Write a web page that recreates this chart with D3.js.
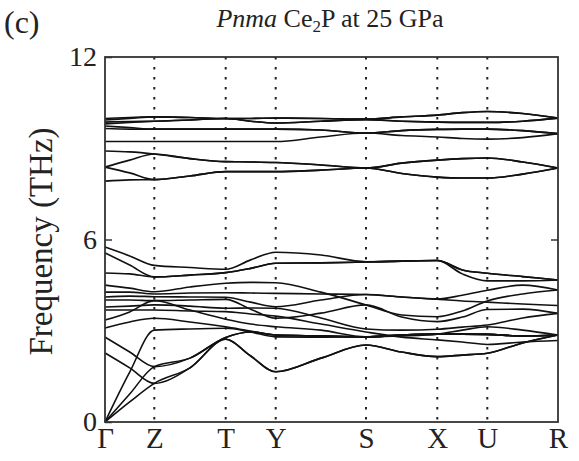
<!DOCTYPE html>
<html>
<head>
<meta charset="utf-8">
<script src="https://cdn.jsdelivr.net/npm/d3@7"></script>
<style>
  body { margin: 0; background: #fff; }
  svg { font-family: "Liberation Serif", "Times New Roman", serif; }
</style>
</head>
<body>
<svg id="chart" width="579" height="461"></svg>
<script>
// high-symmetry path
const kLabels = ["Γ", "Z", "T", "Y", "S", "X", "U", "R"];
const kTicks = [0, 0.493, 1.207, 1.707, 2.610, 3.323, 3.823, 4.530];
// sample positions along the path (symmetry points + one point inside each segment)
const kGrid = [0, 0.247, 0.493, 0.850, 1.207, 1.457, 1.707, 2.159, 2.610, 2.967, 3.323, 3.573, 3.823, 4.177, 4.530];
const yTicks = [0, 6, 12];

// frequencies (THz) read at kGrid
const upperBands = [
  [9.98, 10.01, 10.03, 10.01, 9.98, 9.98, 9.99, 9.98, 9.96, 10.03, 10.09, 10.17, 10.21, 10.14, 9.99],
  [9.93, 9.98, 10.03, 10.01, 9.98, 9.98, 9.99, 9.98, 9.96, 10.03, 10.09, 10.17, 10.21, 10.14, 9.99],
  [9.86, 9.88, 9.89, 9.93, 9.98, 9.89, 9.83, 9.89, 9.94, 9.89, 9.86, 9.85, 9.85, 9.89, 9.99],
  [9.80, 9.85, 9.89, 9.93, 9.98, 9.89, 9.83, 9.89, 9.94, 9.89, 9.86, 9.85, 9.85, 9.89, 9.99],
  [9.73, 9.68, 9.63, 9.63, 9.63, 9.63, 9.63, 9.60, 9.50, 9.58, 9.62, 9.63, 9.63, 9.58, 9.48],
  [9.65, 9.63, 9.63, 9.63, 9.63, 9.63, 9.63, 9.60, 9.50, 9.58, 9.62, 9.63, 9.63, 9.58, 9.48],
  [9.22, 9.22, 9.22, 9.22, 9.22, 9.22, 9.22, 9.37, 9.50, 9.42, 9.37, 9.32, 9.30, 9.35, 9.48]
];

const middleBands = [
  [8.91, 8.88, 8.81, 8.66, 8.56, 8.55, 8.53, 8.45, 8.35, 8.51, 8.61, 8.66, 8.68, 8.55, 8.35],
  [8.38, 8.61, 8.81, 8.66, 8.56, 8.55, 8.53, 8.45, 8.35, 8.51, 8.61, 8.66, 8.68, 8.55, 8.35],
  [8.38, 8.19, 7.97, 8.09, 8.23, 8.23, 8.23, 8.28, 8.35, 8.17, 8.05, 8.02, 8.02, 8.15, 8.35],
  [7.92, 7.96, 7.97, 8.09, 8.23, 8.23, 8.23, 8.28, 8.35, 8.17, 8.05, 8.02, 8.02, 8.15, 8.35]
];

const lowerBands = [
  [5.75, 5.46, 5.15, 5.08, 5.02, 5.33, 5.58, 5.49, 5.27, 5.29, 5.31, 5.00, 4.89, 4.78, 4.67],
  [5.56, 5.16, 4.77, 4.83, 4.91, 5.05, 5.22, 5.23, 5.26, 5.29, 5.31, 4.87, 4.64, 4.64, 4.67],
  [4.90, 4.87, 4.77, 4.83, 4.91, 5.05, 5.22, 5.23, 5.26, 5.29, 5.31, 5.00, 4.89, 4.78, 4.67],
  [4.50, 4.40, 4.28, 4.44, 4.56, 4.59, 4.58, 4.27, 3.85, 3.52, 3.46, 3.65, 3.98, 4.21, 4.34],
  [4.27, 4.27, 4.21, 4.24, 4.25, 4.24, 4.23, 4.21, 4.19, 4.11, 4.04, 4.17, 4.33, 4.50, 4.34],
  [4.11, 4.14, 4.12, 4.11, 4.10, 3.94, 3.79, 4.01, 4.19, 4.11, 4.04, 3.98, 3.94, 3.88, 3.83],
  [4.01, 4.01, 3.99, 4.01, 4.03, 3.71, 3.41, 3.58, 3.85, 3.45, 3.30, 3.45, 3.70, 3.71, 3.57],
  [3.78, 3.81, 3.85, 3.81, 3.74, 3.75, 3.74, 3.42, 3.06, 3.02, 3.05, 3.12, 3.19, 3.42, 3.57],
  [3.68, 3.68, 3.68, 3.65, 3.63, 3.55, 3.48, 3.22, 2.96, 2.79, 2.70, 2.63, 2.55, 2.63, 2.68],
  [3.35, 3.62, 3.99, 3.68, 3.38, 3.22, 3.13, 3.02, 2.80, 2.86, 2.89, 2.89, 2.88, 2.83, 2.86],
  [3.09, 3.29, 3.41, 3.29, 3.13, 2.99, 2.86, 2.83, 2.80, 2.86, 2.89, 2.89, 2.88, 2.83, 2.86],
  [0.00, 1.64, 3.02, 3.06, 3.08, 2.96, 2.80, 2.79, 2.80, 2.83, 2.89, 3.02, 3.13, 3.02, 2.86],
  [0.00, 0.66, 1.27, 1.78, 2.72, 2.17, 1.65, 2.10, 2.53, 2.30, 2.15, 2.20, 2.26, 2.60, 2.86],
  [2.27, 1.78, 1.27, 1.78, 2.72, 2.17, 1.65, 2.10, 2.53, 2.30, 2.15, 2.20, 2.26, 2.60, 2.86],
  [0.00, 0.92, 1.82, 2.10, 2.78, 2.96, 2.86, 2.83, 2.80, 2.86, 2.89, 2.89, 2.88, 2.83, 2.86],
  [2.79, 2.30, 1.82, 2.10, 2.78, 2.96, 2.86, 2.83, 2.80, 2.86, 2.89, 2.89, 2.88, 2.83, 2.86]
];

const bands = upperBands.concat(middleBands, lowerBands);

const svg = d3.select("#chart");
const plot = { left: 105, right: 558, top: 57, bottom: 422 };

const x = d3.scaleLinear().domain([kTicks[0], kTicks[kTicks.length - 1]]).range([plot.left, plot.right]);
const y = d3.scaleLinear().domain([0, 12]).range([plot.bottom, plot.top]);

// dotted separators at interior symmetry points
svg.append("g")
  .selectAll("line")
  .data(kTicks.slice(1, -1))
  .join("line")
  .attr("x1", d => x(d)).attr("x2", d => x(d))
  .attr("y1", plot.top).attr("y2", plot.bottom)
  .attr("stroke", "#222")
  .attr("stroke-width", 2)
  .attr("stroke-dasharray", "2.5 7.5");

// bands
const line = d3.line()
  .x((d, i) => x(kGrid[i]))
  .y(d => y(d))
  .curve(d3.curveMonotoneX);

svg.append("g")
  .attr("fill", "none")
  .attr("stroke", "#111")
  .attr("stroke-width", 1.6)
  .selectAll("path")
  .data(bands)
  .join("path")
  .attr("d", line);

// frame
svg.append("rect")
  .attr("x", plot.left).attr("y", plot.top)
  .attr("width", plot.right - plot.left).attr("height", plot.bottom - plot.top)
  .attr("fill", "none").attr("stroke", "#333").attr("stroke-width", 1.8);

// left axis
const yAxis = svg.append("g")
  .attr("transform", `translate(${plot.left},0)`)
  .call(d3.axisLeft(y).tickValues(yTicks).tickSizeInner(-7).tickSizeOuter(0).tickPadding(8));
yAxis.select(".domain").remove();
yAxis.selectAll("line").attr("stroke", "#333").attr("stroke-width", 1.5);
yAxis.selectAll("text").attr("font-size", 28).attr("fill", "#222").attr("font-family", "Liberation Serif, serif");

// right axis ticks
const yAxisR = svg.append("g")
  .attr("transform", `translate(${plot.right},0)`)
  .call(d3.axisRight(y).tickValues([6]).tickSizeInner(-7).tickSizeOuter(0).tickFormat(""));
yAxisR.select(".domain").remove();
yAxisR.selectAll("line").attr("stroke", "#333").attr("stroke-width", 1.5);

// bottom axis labels
const xAxis = svg.append("g")
  .attr("transform", `translate(0,${plot.bottom})`)
  .call(d3.axisBottom(x).tickValues(kTicks).tickFormat((d, i) => kLabels[i]).tickSize(0).tickPadding(5));
xAxis.select(".domain").remove();
xAxis.selectAll("text").attr("font-size", 29).attr("fill", "#222").attr("font-family", "Liberation Serif, serif");

// y label
svg.append("text")
  .attr("transform", `translate(52,${(plot.top + plot.bottom) / 2 + 2}) rotate(-90)`)
  .attr("text-anchor", "middle")
  .attr("font-size", 33)
  .attr("fill", "#222")
  .text("Frequency (THz)");

// title
const title = svg.append("text")
  .attr("x", 330).attr("y", 27)
  .attr("text-anchor", "middle")
  .attr("font-size", 26)
  .attr("fill", "#222");
title.append("tspan").attr("font-style", "italic").text("Pnma");
title.append("tspan").text(" Ce");
title.append("tspan").attr("font-size", 17).attr("dy", 5).text("2");
title.append("tspan").attr("dy", -5).text("P at 25 GPa");

svg.append("text")
  .attr("x", 4).attr("y", 33)
  .attr("font-size", 32)
  .attr("fill", "#222")
  .text("(c)");
</script>
</body>
</html>
